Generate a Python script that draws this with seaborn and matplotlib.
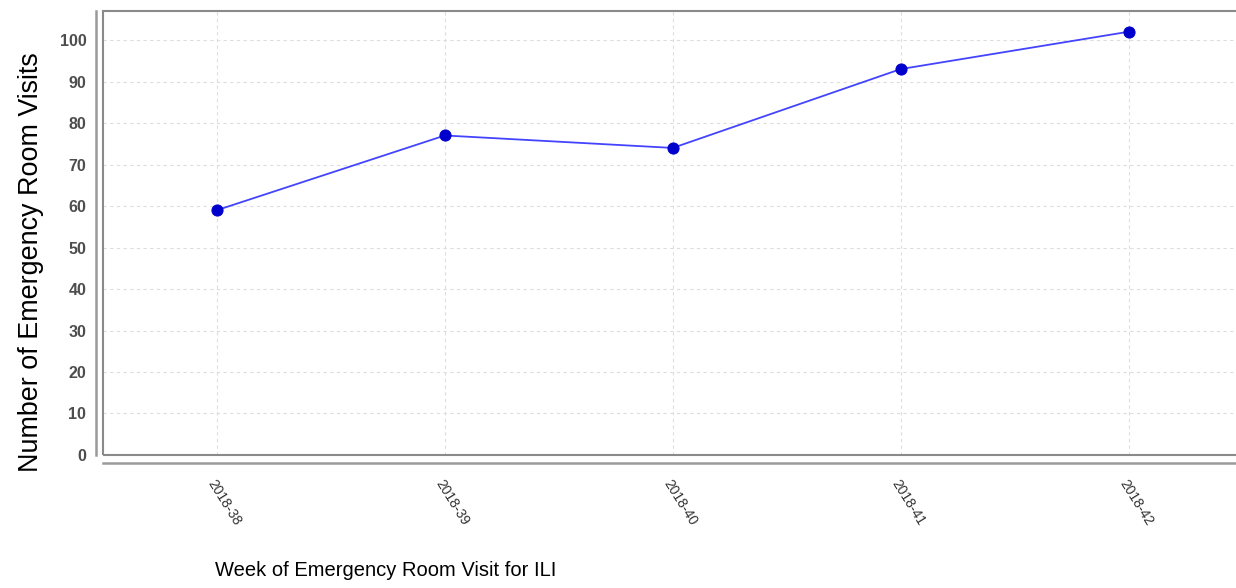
import seaborn as sns
import matplotlib.pyplot as plt
from matplotlib.patches import Rectangle

weeks = ["2018-38", "2018-39", "2018-40", "2018-41", "2018-42"]
visits = [59, 77, 74, 93, 102]

sns.set_style("white")
plt.rcParams["font.family"] = ["Liberation Sans", "DejaVu Sans"]

fig = plt.figure(figsize=(12.36, 5.88), dpi=100)
ax = fig.add_axes([0.0833, 0.2262, 0.922, 0.7551])

sns.lineplot(x=weeks, y=visits, ax=ax, color="#4444ff", linewidth=1.3,
             marker="o", markersize=8, markerfacecolor="#0000cc",
             markeredgecolor="#0000cc", sort=False)

ax.set_xlim(-0.5, 4.5)
ax.set_ylim(0, 107)
ax.set_yticks(range(0, 101, 10))
ax.grid(True, linestyle=(0, (3, 3)), color="#dddddd", linewidth=0.8)

# box around plot area plus offset axis lines
ax.add_patch(Rectangle((0, 0), 1, 1, transform=ax.transAxes, fill=False,
                       edgecolor="#8a8a8a", linewidth=1.5, clip_on=False, zorder=5))
for s in ["top", "right"]:
    ax.spines[s].set_visible(False)
ax.spines["left"].set_position(("outward", 5))
ax.spines["bottom"].set_position(("outward", 6))
for s in ["left", "bottom"]:
    ax.spines[s].set_color("#9a9a9a")
    ax.spines[s].set_linewidth(1.8)

ax.tick_params(axis="y", length=4, width=1, color="#9a9a9a", pad=3,
               labelsize=11.5, labelcolor="#4d4d4d")
for lbl in ax.get_yticklabels():
    lbl.set_fontweight("bold")
ax.tick_params(axis="x", length=4, width=1, color="#9a9a9a", pad=6,
               labelsize=10, labelcolor="#333333")
plt.setp(ax.get_xticklabels(), rotation=-58, ha="left", va="top",
         rotation_mode="anchor")

ax.set_xlabel("")
ax.set_ylabel("")
fig.text(0.312, 0.03, "Week of Emergency Room Visit for ILI", fontsize=14.5,
         ha="center", va="center", color="black")
fig.text(0.025, 0.555, "Number of Emergency Room Visits", fontsize=19.4,
         rotation=90, ha="center", va="center", color="black")

fig.savefig("out.png", dpi=100)
